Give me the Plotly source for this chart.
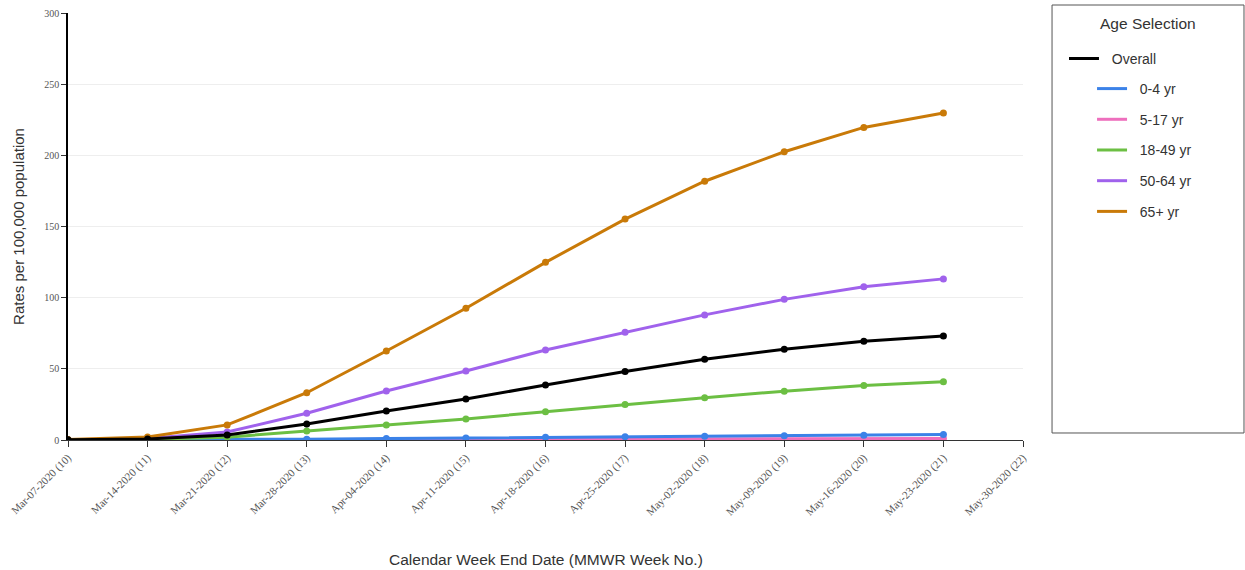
import plotly.graph_objects as go

weeks = [10, 11, 12, 13, 14, 15, 16, 17, 18, 19, 20, 21]
tick_weeks = [10, 11, 12, 13, 14, 15, 16, 17, 18, 19, 20, 21, 22]
tick_labels = ["Mar-07-2020 (10)", "Mar-14-2020 (11)", "Mar-21-2020 (12)", "Mar-28-2020 (13)",
               "Apr-04-2020 (14)", "Apr-11-2020 (15)", "Apr-18-2020 (16)", "Apr-25-2020 (17)",
               "May-02-2020 (18)", "May-09-2020 (19)", "May-16-2020 (20)", "May-23-2020 (21)",
               "May-30-2020 (22)"]

overall = [0.1, 0.7, 3.5, 11.2, 20.4, 28.8, 38.6, 48.2, 56.8, 63.7, 69.4, 73.1]
age_0_4 = [0.0, 0.1, 0.3, 0.6, 1.0, 1.4, 1.9, 2.3, 2.7, 3.0, 3.4, 3.9]
age_5_17 = [0.0, 0.05, 0.1, 0.1, 0.2, 0.3, 0.4, 0.5, 0.6, 0.7, 0.8, 1.0]
age_18_49 = [0.05, 0.4, 2.0, 6.3, 10.5, 14.8, 19.9, 24.9, 29.7, 34.3, 38.3, 41.0]
age_50_64 = [0.1, 1.0, 5.6, 18.8, 34.4, 48.5, 63.2, 75.7, 87.9, 98.8, 107.6, 113.2]
age_65 = [0.3, 2.1, 10.6, 33.2, 62.5, 92.6, 124.8, 155.2, 181.8, 202.5, 219.6, 229.8]

series_names = ["Overall", "0-4 yr", "5-17 yr", "18-49 yr", "50-64 yr", "65+ yr"]
series_values = [overall, age_0_4, age_5_17, age_18_49, age_50_64, age_65]
series_colors = ["#000000", "#3b82e8", "#ee6fbd", "#6cbf43", "#a062ec", "#c97a08"]

fig = go.Figure()

draw_order = [2, 1, 3, 4, 5, 0]
for i in draw_order:
    fig.add_trace(go.Scatter(
        x=weeks, y=series_values[i], mode="lines+markers", name=series_names[i],
        line=dict(color=series_colors[i], width=3),
        marker=dict(color=series_colors[i], size=7),
        showlegend=False, hoverinfo="x+y+name"))

NBSP = "\u00a0"
for i, name in enumerate(series_names):
    fig.add_trace(go.Scatter(
        x=[None], y=[None], mode="lines", name=NBSP * 2 + name,
        line=dict(color=series_colors[i], width=3),
        legend="legend" if i == 0 else "legend2",
        legendgroup=name, showlegend=True))

fig.update_layout(
    width=1245, height=570,
    margin=dict(l=68, r=222, t=13, b=130),
    paper_bgcolor="white", plot_bgcolor="white",
    font=dict(family="Liberation Sans, Arial, sans-serif", color="#333"),
    legend=dict(x=1.0429, y=0.93, xanchor="left", yanchor="top",
                font=dict(size=14, color="#333"), bgcolor="rgba(0,0,0,0)",
                tracegroupgap=9.5),
    legend2=dict(x=1.0723, y=0.8595, xanchor="left", yanchor="top",
                 font=dict(size=14, color="#333"), bgcolor="rgba(0,0,0,0)",
                 tracegroupgap=9.5),
    xaxis=dict(
        range=[10, 22], tickmode="array", tickvals=tick_weeks, ticktext=tick_labels,
        tickangle=-45, showgrid=False, zeroline=False, automargin=False,
        showline=True, linecolor="#333", linewidth=1,
        ticks="outside", ticklen=6, tickcolor="#333",
        tickfont=dict(family="Liberation Serif, Times New Roman, serif", size=11, color="#555"),
    ),
    yaxis=dict(
        range=[0, 300], tickvals=[0, 50, 100, 150, 200, 250, 300],
        showgrid=True, gridcolor="#eeeeee", zeroline=False, automargin=False,
        ticklabeloverflow="allow",
        showline=True, linecolor="#000", linewidth=1.5,
        ticks="outside", ticklen=5, tickcolor="#333",
        tickfont=dict(family="Liberation Serif, Times New Roman, serif", size=10, color="#555"),
        title=dict(text="Rates per 100,000 population", font=dict(size=15, color="#333"),
                   standoff=16),
    ),
    shapes=[dict(type="rect", xref="paper", yref="paper",
                 x0=1.0304, x1=1.2314, y0=0.0164, y1=1.0187,
                 line=dict(color="#555", width=1), fillcolor="rgba(0,0,0,0)")],
    annotations=[
        dict(text="Age Selection", xref="paper", yref="paper",
             x=1.131, y=0.975, xanchor="center", yanchor="middle",
             showarrow=False, font=dict(size=15.5, color="#333")),
        dict(text="Calendar Week End Date (MMWR Week No.)", xref="paper", yref="paper",
             x=0.5, y=-0.281, xanchor="center", yanchor="middle",
             showarrow=False, font=dict(size=15.5, color="#333")),
    ],
)

fig.write_html("out.html", config={"displayModeBar": False},
               post_script="document.body.style.margin='0';document.body.style.overflow='hidden';")
